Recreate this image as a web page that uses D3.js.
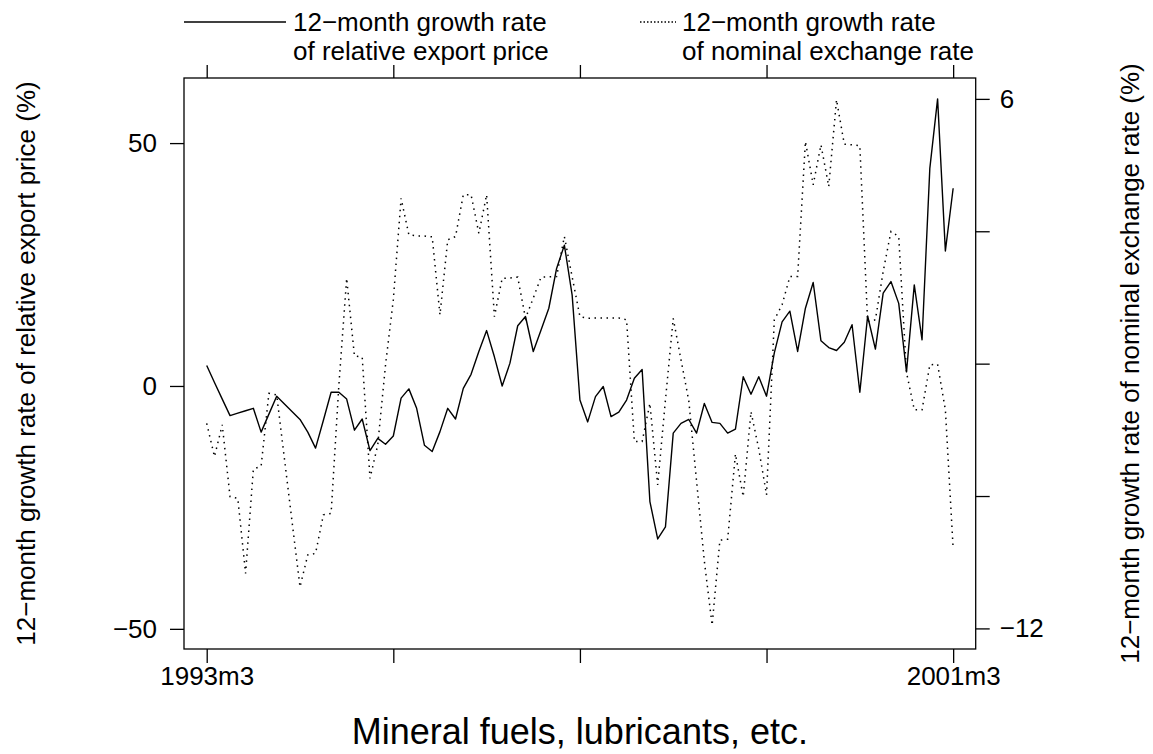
<!DOCTYPE html>
<html>
<head>
<meta charset="utf-8">
<style>
    body { margin: 0; background: #fff; }
    svg text { font-family: "Liberation Sans", Arial, Helvetica, sans-serif; fill: #000; }
</style>
</head>
<body>
<svg id="chart" width="1153" height="754"></svg>
<script src="https://d3js.org/d3.v7.min.js"></script>
<script>
    // monthly observations, 1993m3 .. 2001m3
    const startYear = 1993, startMonth = 3, nMonths = 97;
    const months = d3.range(nMonths).map(function (i) {
        let m = startMonth - 1 + i;
        return (startYear + Math.floor(m / 12)) + "m" + (m % 12 + 1);
    });

    // 12-month growth rate of relative export price (%), left axis
    const priceGrowth = [
        4.2, 0.7, -2.7, -6.1, -5.6, -5.1, -4.6, -9.5, -5.8, -2.1,
        -3.7, -5.3, -6.9, -9.5, -12.8, -7.1, -1.3, -1.3, -2.7, -9.1,
        -6.8, -13.3, -10.8, -12.0, -10.3, -2.5, -0.6, -4.6, -12.2, -13.5,
        -9.4, -4.6, -6.8, -0.5, 2.4, 7.1, 11.4, 6.0, 0.0, 4.7,
        12.4, 14.3, 7.1, 11.5, 16.0, 24.2, 29.0, 18.7, -2.9, -7.4,
        -2.2, -0.1, -6.3, -5.4, -2.9, 1.6, 3.4, -23.8, -31.5, -29.0,
        -9.7, -7.7, -6.9, -9.7, -3.6, -7.5, -7.7, -9.7, -8.9, 1.9,
        -1.7, 1.9, -2.1, 6.8, 13.2, 15.4, 7.1, 16.0, 21.3, 9.3,
        7.9, 7.3, 9.0, 12.6, -1.3, 14.4, 7.6, 19.1, 21.5, 17.0,
        2.9, 20.8, 9.5, 44.8, 59.1, 27.8, 40.7
    ];

    // 12-month growth rate of nominal exchange rate (%), right axis
    const rateGrowth = [
        -5.03, -6.16, -5.08, -7.52, -7.58, -10.13, -6.59, -6.48, -4.01, -4.06,
        -6.24, -8.42, -10.59, -9.50, -9.45, -8.14, -8.09, -3.72, -0.10, -2.74,
        -2.78, -6.90, -5.76, -3.04, -0.83, 2.62, 1.38, 1.34, 1.34, 1.31,
        -1.34, 1.21, 1.32, 2.74, 2.74, 1.43, 2.74, -1.40, -0.10, -0.09,
        -0.06, -1.46, -0.77, -0.06, -0.05, -0.04, 1.32, -0.05, -1.40, -1.46,
        -1.45, -1.45, -1.45, -1.45, -1.51, -5.65, -5.65, -4.35, -7.12, -4.23,
        -1.46, -2.87, -4.26, -6.99, -9.71, -11.89, -9.00, -8.97, -6.07, -7.52,
        -4.63, -5.90, -7.46, -1.51, -1.00, -0.04, -0.04, 4.55, 3.08, 4.44,
        3.02, 5.97, 4.46, 4.44, 4.41, -1.57, -1.51, 0.13, 1.49, 1.32,
        -3.30, -4.57, -4.57, -3.04, -3.02, -4.57, -9.28
    ];

    const xTicks = ["1993m3", "1995m3", "1997m3", "1999m3", "2001m3"];
    const xTickLabels = ["1993m3", "2001m3"];
    const leftTicks = [-50, 0, 50];
    const rightTicks = [-12, -7.5, -3, 1.5, 6];
    const rightTickLabels = [-12, 6];

    const legendLabels = [
        ["12\u2212month growth rate", "of relative export price"],
        ["12\u2212month growth rate", "of nominal exchange rate"]
    ];
    const leftTitle = "12\u2212month growth rate of relative export price (%)";
    const rightTitle = "12\u2212month growth rate of nominal exchange rate (%)";
    const mainTitle = "Mineral fuels, lubricants, etc.";

    // plot box
    const box = {left: 184, right: 975.7, top: 78, bottom: 649};
    const fontSize = 26;

    const svg = d3.select("#chart");

    const x = d3.scaleLinear().domain([-2.92, 98.9]).range([box.left, box.right]);
    const yLeft = d3.scaleLinear().domain([-54.15, 63.4]).range([box.bottom, box.top]);
    const yRight = d3.scaleLinear().domain([-12.70, 6.71]).range([box.bottom, box.top]);

    drawAxes();
    drawLines();
    drawLegend();
    drawTitles();

    function styleAxis(g) {
        g.select(".domain").remove();
        g.attr("font-family", null).attr("font-size", null);
        g.selectAll("line").attr("stroke", "#000").attr("stroke-width", 1.3);
        g.selectAll("text").style("font-size", fontSize + "px");
    }

    function drawAxes() {
        let xIdx = xTicks.map(function (d) { return months.indexOf(d); });

        svg.append("g")
            .attr("transform", "translate(0," + box.bottom + ")")
            .call(d3.axisBottom(x).tickValues(xIdx).tickSize(14).tickSizeOuter(0).tickPadding(4)
                .tickFormat(function (i) {
                    return xTickLabels.indexOf(months[i]) >= 0 ? months[i] : "";
                }))
            .call(styleAxis);

        svg.append("g")
            .attr("transform", "translate(0," + box.top + ")")
            .call(d3.axisTop(x).tickValues(xIdx).tickSize(13).tickSizeOuter(0).tickFormat(""))
            .call(styleAxis);

        svg.append("g")
            .attr("transform", "translate(" + box.left + ",0)")
            .call(d3.axisLeft(yLeft).tickValues(leftTicks).tickSize(14).tickSizeOuter(0).tickPadding(13))
            .call(styleAxis);

        svg.append("g")
            .attr("transform", "translate(" + box.right + ",0)")
            .call(d3.axisRight(yRight).tickValues(rightTicks).tickSize(14).tickSizeOuter(0).tickPadding(10)
                .tickFormat(function (d) {
                    return rightTickLabels.indexOf(d) >= 0 ? d3.format("d")(d) : "";
                }))
            .call(styleAxis);

        svg.append("rect")
            .attr("x", box.left)
            .attr("y", box.top)
            .attr("width", box.right - box.left)
            .attr("height", box.bottom - box.top)
            .attr("fill", "none")
            .attr("stroke", "#000")
            .attr("stroke-width", 1.3);
    }

    function drawLines() {
        let priceLine = d3.line()
            .x(function (d, i) { return x(i); })
            .y(function (d) { return yLeft(d); });
        let rateLine = d3.line()
            .x(function (d, i) { return x(i); })
            .y(function (d) { return yRight(d); });

        svg.append("path")
            .datum(rateGrowth)
            .attr("d", rateLine)
            .attr("fill", "none")
            .attr("stroke", "#000")
            .attr("stroke-width", 1.5)
            .attr("stroke-dasharray", "1.5,4.5");

        svg.append("path")
            .datum(priceGrowth)
            .attr("d", priceLine)
            .attr("fill", "none")
            .attr("stroke", "#000")
            .attr("stroke-width", 1.4)
            .attr("stroke-linejoin", "round");
    }

    function drawLegend() {
        let items = [
            {x1: 184, x2: 286, tx: 293, dash: null, lines: legendLabels[0]},
            {x1: 640, x2: 676, tx: 682, dash: "1.5,2", lines: legendLabels[1]}
        ];
        let g = svg.append("g");
        items.forEach(function (it) {
            g.append("line")
                .attr("x1", it.x1).attr("x2", it.x2)
                .attr("y1", 22).attr("y2", 22)
                .attr("stroke", "#000")
                .attr("stroke-width", 1.4)
                .attr("stroke-dasharray", it.dash);
            g.selectAll(null)
                .data(it.lines)
                .enter().append("text")
                .attr("x", it.tx)
                .attr("y", function (d, i) { return 31 + i * 29; })
                .style("font-size", fontSize + "px")
                .text(function (d) { return d; });
        });
    }

    function drawTitles() {
        let midY = (box.top + box.bottom) / 2;
        svg.append("text")
            .attr("transform", "translate(35," + midY + ") rotate(-90)")
            .attr("text-anchor", "middle")
            .style("font-size", fontSize + "px")
            .text(leftTitle);
        svg.append("text")
            .attr("transform", "translate(1139," + midY + ") rotate(-90)")
            .attr("text-anchor", "middle")
            .style("font-size", fontSize + "px")
            .text(rightTitle);
        svg.append("text")
            .attr("x", (box.left + box.right) / 2)
            .attr("y", 744)
            .attr("text-anchor", "middle")
            .style("font-size", "36px")
            .text(mainTitle);
    }
</script>
</body>
</html>
